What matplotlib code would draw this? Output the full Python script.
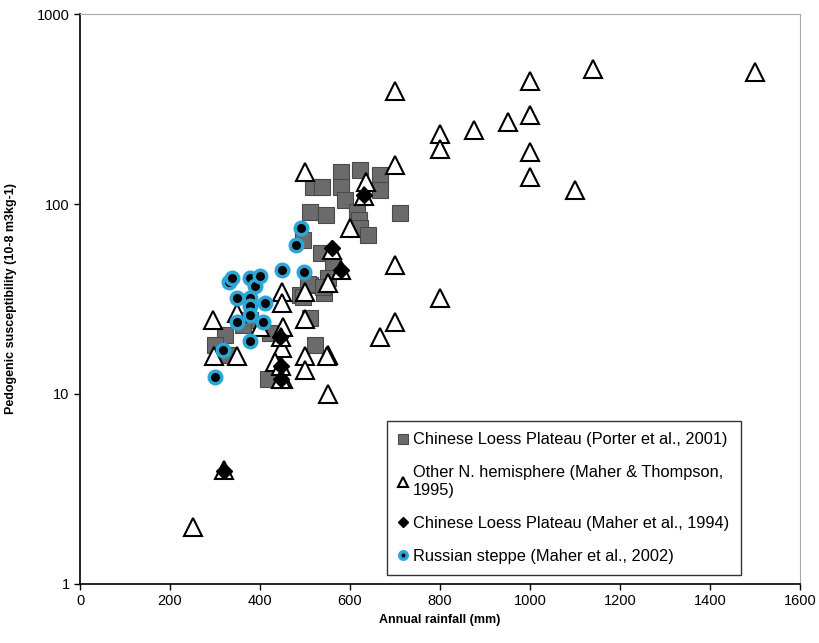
import numpy as np
import matplotlib.pyplot as plt

plt.rcParams['font.family'] = ['Liberation Sans', 'DejaVu Sans']

# Chinese Loess Plateau (Porter et al., 2001) - gray squares
porter_rain = [581, 622, 667, 667, 581, 518, 537, 589, 511, 547, 615, 619, 622, 641,
               710, 489, 496, 536, 563, 550, 511, 496, 542, 507, 541, 511, 522, 422,
               418, 322, 300, 326, 378, 363]
porter_sus = [148, 151, 142, 119, 123, 123, 123, 105, 91, 88, 91, 82, 75, 69,
              90, 33, 65, 55, 47, 41, 37.5, 32.5, 34, 38, 36.7, 25, 18, 21,
              12, 20.5, 18, 16, 24.5, 23]

# Other N. hemisphere (Maher & Thompson, 1995) - open triangles
other_rain = [700, 1140, 1500, 1000, 1000, 950, 875, 800, 800, 1000, 1000, 1100, 700,
              700, 800, 700, 667, 552, 552, 552, 500, 636, 600, 448, 448, 500,
              296, 348, 400, 452, 500, 298, 348, 448, 500, 500, 548, 433, 450,
              250, 320, 447, 447, 447, 630, 560, 580]
other_sus = [395, 514, 497, 446, 294, 269, 246, 235, 196, 187, 138, 118, 160,
             48, 32, 24, 20, 16, 10, 38.5, 148, 130, 74.5, 34.5, 30, 34.5,
             24.5, 26.6, 22.6, 22.6, 24.7, 15.8, 15.8, 17.4, 15.8, 13.4, 15.8, 14.8, 12,
             2, 4, 20, 14, 12, 110, 57, 45]

# Chinese Loess Plateau (Maher et al., 1994) - black diamonds
maher94_rain = [630, 559, 581, 445, 447, 447, 321]
maher94_sus = [111, 58.5, 45, 20, 14, 12, 3.95]

# Russian steppe (Maher et al., 2002) - black dots, blue rim
russ_rain = [300, 318, 330, 337, 348, 348, 378, 378, 378, 378, 378, 389, 400, 411,
             407, 448, 480, 490, 498]
russ_sus = [12.3, 17, 39, 41, 32, 24, 41, 32, 29, 26, 19, 37, 42, 30,
            24, 45, 61, 75, 44]

fig = plt.figure(figsize=(8.2, 6.43), dpi=100)
ax = fig.add_axes([0.0976, 0.092, 0.878, 0.886])

ax.plot(porter_rain, porter_sus, 's', ms=11.5, mfc='#6b6b6b', mec='#4a4a4a', mew=0.8,
        ls='none', label='Chinese Loess Plateau (Porter et al., 2001)')
ax.plot(other_rain, other_sus, '^', ms=12.5, mfc='white', mec='black', mew=1.5,
        ls='none', label='Other N. hemisphere (Maher & Thompson,\n1995)')
ax.plot(maher94_rain, maher94_sus, 'D', ms=8, mfc='black', mec='black',
        ls='none', label='Chinese Loess Plateau (Maher et al., 1994)')
ax.plot(russ_rain, russ_sus, 'o', ms=9, mfc='black', mec='#2aa7d6', mew=2.5,
        ls='none', label='Russian steppe (Maher et al., 2002)')

ax.set_yscale('log')
ax.set_xlim(0, 1600)
ax.set_ylim(1, 1000)
ax.set_xticks(np.arange(0, 1601, 200))
ax.set_yticks([1, 10, 100, 1000])
ax.set_yticklabels(['1', '10', '100', '1000'])
ax.yaxis.set_minor_locator(plt.NullLocator())
ax.tick_params(axis='both', labelsize=10.5, length=4, width=1, direction='out')

for side in ['top', 'right']:
    ax.spines[side].set_color('#a8a8a8')
for side in ['left', 'bottom']:
    ax.spines[side].set_color('black')
    ax.spines[side].set_linewidth(1.2)

ax.set_xlabel('Annual rainfall (mm)', fontsize=9, fontweight='bold', labelpad=4)
ax.set_ylabel('Pedogenic susceptibility (10-8 m3kg-1)', fontsize=9, fontweight='bold',
              labelpad=14)

handles, labels = ax.get_legend_handles_labels()
leg = fig.legend(handles, labels, loc='upper left',
                 bbox_to_anchor=(387 / 820, 1 - 421 / 643),
                 fontsize=11.8, frameon=True, fancybox=False, markerscale=0.6,
                 handlelength=0.6, handletextpad=0.3, labelspacing=1.1,
                 borderpad=0.7, borderaxespad=0)
leg.get_frame().set_edgecolor('black')
leg.get_frame().set_linewidth(1.0)

fig.savefig('out.png', dpi=100)
